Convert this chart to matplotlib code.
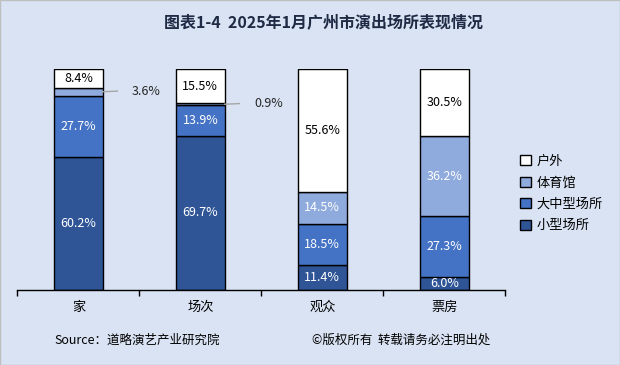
import matplotlib.pyplot as plt
import numpy as np

plt.rcParams['font.family'] = ['Noto Sans CJK SC', 'DejaVu Sans']

# Data
categories = ['家', '场次', '观众', '票房']
series_names = ['小型场所', '大中型场所', '体育馆', '户外']
small = [60.2, 69.7, 11.4, 6.0]
large = [27.7, 13.9, 18.5, 27.3]
stadium = [3.6, 0.9, 14.5, 36.2]
outdoor = [8.4, 15.5, 55.6, 30.5]

colors = ['#2F5597', '#4472C4', '#8FAADC', '#FFFFFF']
text_colors = ['white', 'white', 'white', 'black']
bg = '#DAE3F3'

fig = plt.figure(figsize=(6.2, 3.65), dpi=100, facecolor=bg)
ax = fig.add_axes([0.028, 0.2055, 0.787, 0.6055], facecolor=bg)

x = np.arange(len(categories))
values = [small, large, stadium, outdoor]
bottom = np.zeros(len(categories))
for vals, name, c, tc in zip(values, series_names, colors, text_colors):
    ax.bar(x, vals, 0.4, bottom=bottom, color=c, edgecolor='black',
           linewidth=1, label=name)
    for i, v in enumerate(vals):
        mid = bottom[i] + v / 2
        if v < 5:
            # small segment: label outside with leader line
            ax.plot([x[i] + 0.2, x[i] + 0.32], [mid, mid + 0.3],
                    color='#A6A6A6', lw=1)
            ax.text(x[i] + 0.44, mid + 0.3, f'{v}%', ha='left', va='center',
                    fontsize=9, color='#262626')
        else:
            ax.text(x[i], mid, f'{v}%', ha='center', va='center',
                    fontsize=9, color=tc)
    bottom += np.array(vals)

ax.set_xlim(-0.5, len(categories) - 0.5)
ax.set_ylim(0, 100)
ax.set_yticks([])
ax.set_xticks(x)
ax.set_xticklabels(categories, fontsize=9.5)
ax.set_xticks(np.arange(len(categories) + 1) - 0.5, minor=True)
ax.tick_params(axis='x', which='major', length=0, pad=8)
ax.tick_params(axis='x', which='minor', length=4, width=1)
for s in ['top', 'right', 'left']:
    ax.spines[s].set_visible(False)
ax.spines['bottom'].set_linewidth(1)

handles, labels = ax.get_legend_handles_labels()
leg = fig.legend(handles[::-1], labels[::-1], loc='center left',
                 bbox_to_anchor=(0.82, 0.47), frameon=False, fontsize=9.5,
                 handlelength=0.8, handleheight=0.8, handletextpad=0.4,
                 labelspacing=0.65)

fig.text(0.522, 0.94, '图表1-4  2025年1月广州市演出场所表现情况', ha='center',
         va='center', fontsize=11.5, fontweight='bold', color='#1F2A44')
fig.text(0.088, 0.068, 'Source：道略演艺产业研究院', ha='left', va='center',
         fontsize=9, color='black')
fig.text(0.503, 0.068, '©版权所有  转载请务必注明出处', ha='left', va='center',
         fontsize=9, color='black')

fig.patches.append(plt.Rectangle((0, 0), 1, 1, transform=fig.transFigure,
                                 fill=False, edgecolor='#BFBFBF', lw=1))

fig.savefig('out.png', dpi=100, facecolor=bg)
